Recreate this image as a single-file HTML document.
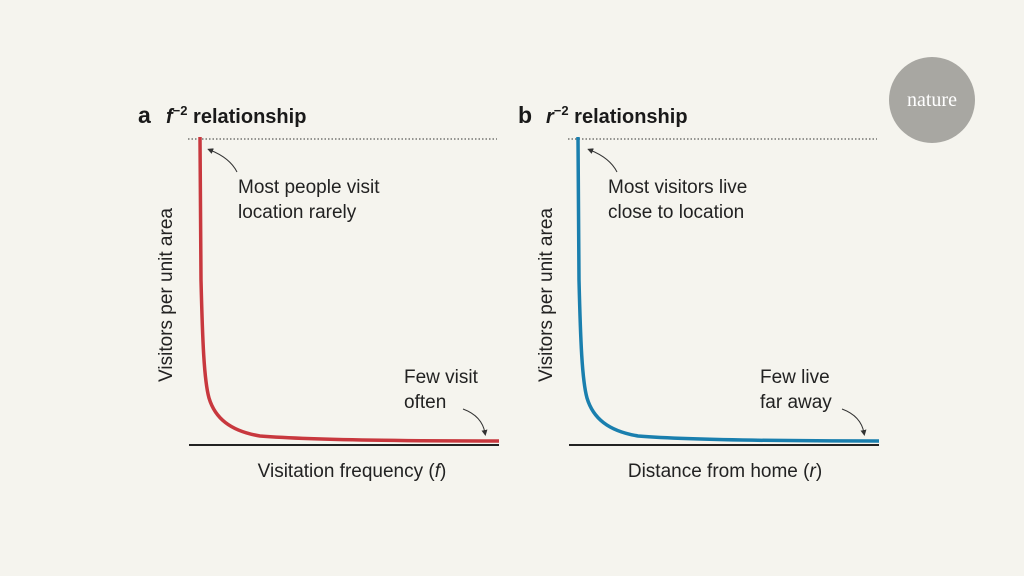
<!DOCTYPE html>
<html><head><meta charset="utf-8"><style>
html,body{margin:0;padding:0;background:#f5f4ee;}
svg{display:block;font-family:"Liberation Sans",sans-serif;}
</style></head><body>
<svg width="1024" height="576" viewBox="0 0 1024 576" xmlns="http://www.w3.org/2000/svg">
<rect width="1024" height="576" fill="#f5f4ee"/>
<circle cx="932" cy="100" r="43" fill="#a8a7a2"/>
<text x="932" y="106" text-anchor="middle" font-family="Liberation Serif,serif" font-size="20" fill="#fff">nature</text>
<defs><marker id="ah" markerWidth="6" markerHeight="6" refX="3" refY="3" orient="auto"><path d="M0,0 L6,3 L0,6 z" fill="#333"/></marker></defs>
<g>
<text x="138" y="123" font-size="23" font-weight="bold" fill="#1a1a1a">a</text>
<text x="166" y="123" font-size="20" font-weight="bold" fill="#1a1a1a"><tspan font-style="italic">f</tspan><tspan dy="-8" font-size="13">−2</tspan><tspan dy="8"> relationship</tspan></text>
<line x1="188" y1="139" x2="497" y2="139" stroke="#333" stroke-width="1" stroke-dasharray="1.5,2"/>
<line x1="189" y1="445" x2="499" y2="445" stroke="#222" stroke-width="2"/>
<path transform="translate(200,0)" d="M0,137 L1,280 C2.5,340 4,380 9,398 C15,418 30,431 60,436 C110,440 200,441 299,441" fill="none" stroke="#c8383e" stroke-width="3.5" stroke-linejoin="round"/>
<text transform="translate(172,295) rotate(-90)" text-anchor="middle" font-size="19" fill="#222">Visitors per unit area</text>
<text x="352" y="477" text-anchor="middle" font-size="19" fill="#222">Visitation frequency (<tspan font-style="italic">f</tspan>)</text>
<text x="238" y="193" font-size="19" fill="#222">Most people visit</text>
<text x="238" y="218" font-size="19" fill="#222">location rarely</text>
<path d="M237,172 Q230,158 210,150" fill="none" stroke="#333" stroke-width="1" marker-end="url(#ah)"/>
<text x="404" y="383" font-size="19" fill="#222">Few visit</text>
<text x="404" y="408" font-size="19" fill="#222">often</text>
<path d="M463,409 Q482,416 485,433" fill="none" stroke="#333" stroke-width="1" marker-end="url(#ah)"/>
</g>
<g>
<text x="518" y="123" font-size="23" font-weight="bold" fill="#1a1a1a">b</text>
<text x="546" y="123" font-size="20" font-weight="bold" fill="#1a1a1a"><tspan font-style="italic">r</tspan><tspan dy="-8" font-size="13">−2</tspan><tspan dy="8"> relationship</tspan></text>
<line x1="568" y1="139" x2="877" y2="139" stroke="#333" stroke-width="1" stroke-dasharray="1.5,2"/>
<line x1="569" y1="445" x2="879" y2="445" stroke="#222" stroke-width="2"/>
<path transform="translate(578,0)" d="M0,137 L1,280 C2.5,340 4,380 9,398 C15,418 30,431 60,436 C110,440 200,441 301,441" fill="none" stroke="#1a7fae" stroke-width="3.5" stroke-linejoin="round"/>
<text transform="translate(552,295) rotate(-90)" text-anchor="middle" font-size="19" fill="#222">Visitors per unit area</text>
<text x="725" y="477" text-anchor="middle" font-size="19" fill="#222">Distance from home (<tspan font-style="italic">r</tspan>)</text>
<text x="608" y="193" font-size="19" fill="#222">Most visitors live</text>
<text x="608" y="218" font-size="19" fill="#222">close to location</text>
<path d="M617,172 Q610,158 590,150" fill="none" stroke="#333" stroke-width="1" marker-end="url(#ah)"/>
<text x="760" y="383" font-size="19" fill="#222">Few live</text>
<text x="760" y="408" font-size="19" fill="#222">far away</text>
<path d="M842,409 Q861,416 864,433" fill="none" stroke="#333" stroke-width="1" marker-end="url(#ah)"/>
</g>
</svg>
</body></html>
